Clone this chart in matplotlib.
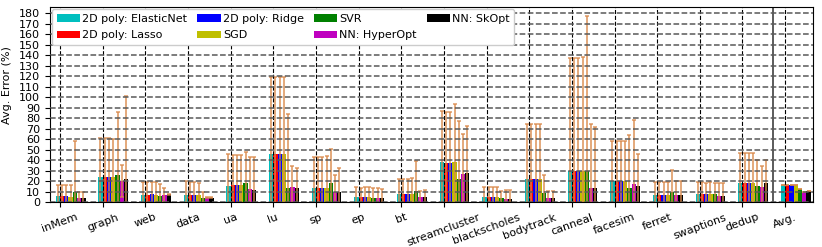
import matplotlib
matplotlib.use("Agg")
import matplotlib.pyplot as plt
import numpy as np

plt.rcParams.update({"font.size": 8, "font.family": "DejaVu Sans"})

BENCHES = ["inMem", "graph", "web", "data", "ua", "lu", "sp", "ep", "bt",
           "streamcluster", "blackscholes", "bodytrack", "canneal", "facesim",
           "ferret", "swaptions", "dedup", "Avg."]
MODELS = ["2D poly: ElasticNet", "2D poly: Lasso", "2D poly: Ridge", "SGD",
          "SVR", "NN: HyperOpt", "NN: SkOpt"]
COLORS = ["c", "r", "b", "y", "g", "m", "k"]

# mean error per benchmark (last entry = Avg.)
elasticnet = [6, 23.8, 7, 7, 15.5, 46, 13.3, 4.8, 8, 38, 5, 22, 30, 20, 7, 7.6, 18.7, 16.5]
lasso      = [6, 23.8, 7, 7, 16, 46, 13.3, 4.8, 8, 37.5, 5, 22, 30, 20, 7, 7.6, 18.7, 16.5]
ridge      = [6, 23.8, 7.6, 7, 16.5, 46, 13.3, 4.8, 8, 37.5, 5, 22, 30, 20, 7, 7.6, 18.7, 16.5]
sgd        = [5.5, 24.4, 7, 7, 16, 46, 13.3, 4.8, 8, 38.7, 5, 22, 30, 20, 7, 7.6, 18.7, 16.5]
svr        = [10, 26, 6, 4.5, 18, 13.3, 18.4, 4.4, 10.8, 22, 4, 9.2, 30, 13.3, 9.5, 7.6, 15.5, 12.7]
hyperopt   = [4.5, 20.3, 7, 4.5, 12.7, 14.3, 10, 3.8, 5, 26.7, 3.2, 4.4, 13.3, 17.8, 7, 6, 14.3, 10]
skopt      = [4.5, 22, 7.6, 4.5, 12, 13.3, 10, 3.8, 5, 28, 3.2, 4.4, 14, 15.5, 7, 6, 18, 10.5]

# top of the error bar (mean + std); Avg. has no spread
elasticnet_top = [16.5, 61, 19, 20, 45.7, 119.7, 43, 14.3, 22, 87, 14.3, 74.6, 137, 58, 19.7, 19, 46.7, 16.5]
lasso_top      = [16.5, 61, 19, 19, 45, 119, 43, 14, 22, 86.3, 14.3, 74.6, 137, 58, 19.7, 19, 46.7, 16.5]
ridge_top      = [16.5, 61.5, 19, 19, 45, 119, 43, 14.3, 22, 86.3, 15, 74.3, 137, 58, 19.7, 18.4, 46.7, 16.5]
sgd_top        = [16.5, 60, 19, 18.4, 45, 119, 44, 14.3, 23, 94, 15, 74.6, 138, 58, 19.7, 19, 47.3, 16.5]
svr_top        = [58, 86, 17, 10, 48, 84, 50.5, 13.3, 39.4, 77.5, 11, 26, 177, 64, 30.8, 18.4, 40.3, 12.7]
hyperopt_top   = [10, 35.5, 14, 5, 43, 35, 26, 13.3, 10.8, 65, 11.7, 11, 75, 78.4, 20.6, 18.4, 34.6, 10]
skopt_top      = [10, 101, 8, 5, 43, 33, 32.4, 12.7, 11.7, 72.7, 11.7, 11, 71.4, 45.7, 20.6, 18.4, 40.3, 10.5]

means = [elasticnet, lasso, ridge, sgd, svr, hyperopt, skopt]
tops = [elasticnet_top, lasso_top, ridge_top, sgd_top, svr_top, hyperopt_top, skopt_top]

fig = plt.figure(figsize=(8.22, 2.47), dpi=100)
ax = fig.add_axes([0.0608, 0.181, 0.9286, 0.7907])

x = np.arange(len(BENCHES))
w = 0.1
for i, (m, t) in enumerate(zip(means, tops)):
    m = np.array(m, dtype=float)
    err = np.array(t, dtype=float) - m
    ax.bar(x + (i - 0.5) * w, m, width=w, color=COLORS[i], label=MODELS[i],
           yerr=[err, err], ecolor="#d9894a", capsize=1.6,
           error_kw={"elinewidth": 1.2, "alpha": 0.85, "capthick": 1.1})

ax.axvline(16.72, color="0.25", linewidth=1.2)
ax.set_xlim(-0.234, 17.66)
ax.set_ylim(0, 186)
ax.set_yticks(np.arange(0, 181, 10))
ax.set_xticks(x)
ax.set_xticklabels(BENCHES, rotation=20, ha="center")
ax.set_ylabel("Avg. Error (%)")
ax.yaxis.set_label_coords(-0.05, 0.6)
ax.set_axisbelow(False)
ax.yaxis.grid(True, linestyle="--", color="0.35", linewidth=1.1)
ax.xaxis.grid(True, linestyle="--", color="k", linewidth=0.8)
ax.legend(loc="upper left", ncol=4, fontsize=8, borderaxespad=0.2,
          framealpha=1.0, columnspacing=0.9, handletextpad=0.2,
          handlelength=2.1, labelspacing=0.6)

fig.savefig("out.png", dpi=100)
